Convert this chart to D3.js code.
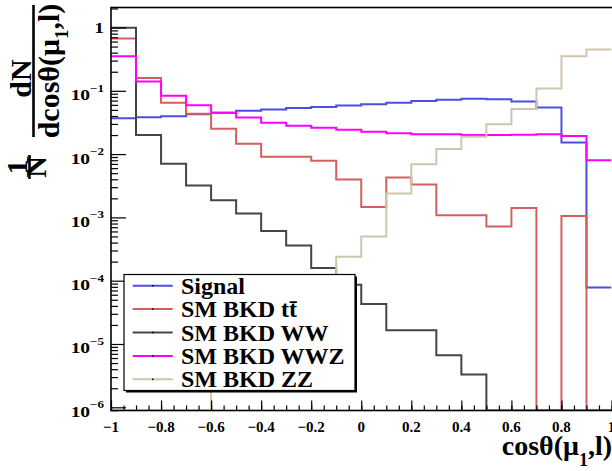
<!DOCTYPE html>
<html>
<head>
<meta charset="utf-8">
<script src="https://cdn.jsdelivr.net/npm/d3@7"></script>
<style>
  html, body { margin: 0; padding: 0; background: #fff; }
  svg { display: block; }
  text { font-family: "Liberation Serif", "Times New Roman", serif; font-weight: bold; fill: #000; }
</style>
</head>
<body>
<svg id="chart" width="612" height="471"></svg>
<script>
// Lower edges of the 20 bins in cos(theta)
const binLow = [-1.0, -0.9, -0.8, -0.7, -0.6, -0.5, -0.4, -0.3, -0.2, -0.1,
                 0.0,  0.1,  0.2,  0.3,  0.4,  0.5,  0.6,  0.7,  0.8,  0.9];
const binWidth = 0.1;

// Normalised distributions, one value per bin
const signal = [0.0369, 0.0383, 0.0397, 0.0427, 0.0448, 0.0482, 0.0505, 0.0537, 0.0557, 0.0585,
                0.0615, 0.0645, 0.0687, 0.0720, 0.0746, 0.0738, 0.0676, 0.0543, 0.0153, 7.8e-5];
const ttbar  = [0.669, 0.159, 0.0645, 0.0432, 0.0252, 0.0146, 0.00905, 0.00905, 0.00783, 0.00396,
                0.00146, 0.00427, 0.0033, 0.00108, 0.00108, 0.00072, 0.00141, 0, 0.00105, 0];
const ww     = [0.99, 0.0200, 0.00702, 0.00319, 0.00186, 0.00115, 0.000607, 0.000360, 0.000159, 8.65e-5,
                4.27e-5, 1.65e-5, 1.65e-5, 6.62e-6, 3.31e-6, 0, 0, 0, 0, 0];
const wwz    = [0.351, 0.140, 0.0833, 0.0593, 0.0448, 0.0377, 0.0314, 0.0281, 0.0261, 0.0243,
                0.0226, 0.0213, 0.0205, 0.0205, 0.0200, 0.0200, 0.0203, 0.0205, 0.0193, 0.00803];
const zz     = [0, 0, 0, 0, 3e-6, 8e-6, 2e-5, 4e-5, 8e-5, 0.00024,
                0.000499, 0.00238, 0.00694, 0.0120, 0.0188, 0.0296, 0.0518, 0.109, 0.351, 0.448];

const seriesNames  = ["Signal", "SM BKD tt\u0304", "SM BKD WW", "SM BKD WWZ", "SM BKD ZZ"];
const seriesColors = ["#4d4de0", "#d35f5f", "#454545", "#ff00ff", "#cdc5ae"];
const seriesValues = [signal, ttbar, ww, wwz, zz];

// Axis ticks and labels
const xMajorTicks  = [-1, -0.8, -0.6, -0.4, -0.2, 0, 0.2, 0.4, 0.6, 0.8, 1];
const xTickLabels  = ["\u22121", "\u22120.8", "\u22120.6", "\u22120.4", "\u22120.2", "0", "0.2", "0.4", "0.6", "0.8", "1"];
const yDecades     = [-6, -5, -4, -3, -2, -1, 0];

const svg = d3.select("#chart");

// Frame geometry
const frameL = 111, frameR = 611.5, frameT = 7.5, frameB = 410.5;

const x = d3.scaleLinear().domain([-1, 1]).range([frameL, frameR]);
const y = d3.scaleLog().domain([8.9e-7, 2.07]).range([frameB, frameT]);
const yMin = y.domain()[0];

// Histograms as step outlines; empty bins fall to the bottom of the frame
svg.append("clipPath").attr("id", "frameClip")
  .append("rect").attr("x", frameL).attr("y", frameT).attr("width", frameR - frameL).attr("height", frameB - frameT);

const histLayer = svg.append("g").attr("clip-path", "url(#frameClip)");

seriesValues.forEach((vals, si) => {
  const pts = [];
  vals.forEach((v, i) => {
    const yy = y(v > yMin ? v : yMin);
    pts.push([x(binLow[i]), yy]);
    pts.push([x(binLow[i] + binWidth), yy]);
  });
  histLayer.append("path")
    .attr("d", d3.line()(pts))
    .attr("fill", "none")
    .attr("stroke", seriesColors[si])
    .attr("stroke-width", 2)
    .attr("stroke-linejoin", "miter");
});

// Frame
svg.append("rect")
  .attr("x", frameL).attr("y", frameT)
  .attr("width", frameR - frameL + 2).attr("height", frameB - frameT)
  .attr("fill", "none").attr("stroke", "#000").attr("stroke-width", 1.6);

// X axis ticks (pointing up into the frame)
const xMinor = d3.range(-1, 1.0001, 0.05).map(v => +v.toFixed(2));
svg.append("g").attr("transform", `translate(0,${frameB})`)
  .call(d3.axisTop(x).tickValues(xMinor).tickSize(5).tickFormat(""))
  .call(g => g.select(".domain").remove())
  .call(g => g.selectAll("line").attr("stroke", "#000").attr("stroke-width", 1.2));
svg.append("g").attr("transform", `translate(0,${frameB})`)
  .call(d3.axisTop(x).tickValues(xMajorTicks).tickSize(10).tickFormat(""))
  .call(g => g.select(".domain").remove())
  .call(g => g.selectAll("line").attr("stroke", "#000").attr("stroke-width", 1.2));

svg.append("g").selectAll("text").data(xMajorTicks).join("text")
  .attr("x", d => x(d))
  .attr("y", 432)
  .attr("text-anchor", "middle")
  .attr("font-size", 15)
  .text((d, i) => xTickLabels[i]);

// Y axis ticks (pointing right into the frame)
const yAll = y.ticks();
const yMinorTicks = yAll.filter(v => Math.abs(Math.log10(v) - Math.round(Math.log10(v))) > 1e-6);
const yMajorTicks = yDecades.map(k => Math.pow(10, k));
svg.append("g").attr("transform", `translate(${frameL},0)`)
  .call(d3.axisRight(y).tickValues(yMinorTicks).tickSize(7).tickFormat(""))
  .call(g => g.select(".domain").remove())
  .call(g => g.selectAll("line").attr("stroke", "#000").attr("stroke-width", 1.2));
svg.append("g").attr("transform", `translate(${frameL},0)`)
  .call(d3.axisRight(y).tickValues(yMajorTicks).tickSize(15).tickFormat(""))
  .call(g => g.select(".domain").remove())
  .call(g => g.selectAll("line").attr("stroke", "#000").attr("stroke-width", 1.2));

const yLab = svg.append("g").selectAll("text").data(yDecades).join("text")
  .attr("text-anchor", "end")
  .attr("transform", d => `translate(104,${y(Math.pow(10, d)) + (d === 0 ? 5.5 : 9.5)}) scale(1.3,1)`)
  .attr("font-size", 15);
yLab.each(function(d) {
  const t = d3.select(this);
  if (d === 0) { t.text("1"); return; }
  t.append("tspan").text("10");
  t.append("tspan").attr("font-size", 10).attr("dy", -8.5).text("\u2212" + Math.abs(d));
});

// Y axis title: 1/N dN/dcos(theta)
const yTitle = svg.append("g");
function rotText(px, py, size) {
  return yTitle.append("text")
    .attr("transform", `translate(${px},${py}) rotate(-90)`)
    .attr("text-anchor", "middle")
    .attr("font-size", size);
}
rotText(27, 167, 30).text("1");
rotText(46, 167, 30).text("N");
yTitle.append("line").attr("x1", 29.5).attr("x2", 29.5).attr("y1", 155).attr("y2", 179)
  .attr("stroke", "#000").attr("stroke-width", 2.6);
rotText(31, 78.5, 30).text("dN");
yTitle.append("line").attr("x1", 33.5).attr("x2", 33.5).attr("y1", 5).attr("y2", 137)
  .attr("stroke", "#000").attr("stroke-width", 2.6);
const den = rotText(59, 71, 30);
den.append("tspan").text("dcos\u03b8(\u03bc");
den.append("tspan").attr("font-size", 19).attr("dy", 9).text("1");
den.append("tspan").attr("dy", -9).text(",l)");

// X axis title
const xt = svg.append("text")
  .attr("x", 612).attr("y", 455)
  .attr("text-anchor", "end")
  .attr("font-size", 28);
xt.append("tspan").text("cos\u03b8(\u03bc");
xt.append("tspan").attr("font-size", 18).attr("dy", 11).text("1");
xt.append("tspan").attr("dy", -11).text(",l)");

// Legend with drop shadow
const lg = { x: 124, y: 274.5, w: 231, h: 116 };
svg.append("rect").attr("x", lg.x + 2).attr("y", lg.y + 2).attr("width", lg.w).attr("height", lg.h).attr("fill", "#000");
svg.append("rect").attr("x", lg.x).attr("y", lg.y).attr("width", lg.w).attr("height", lg.h)
  .attr("fill", "#fff").attr("stroke", "#000").attr("stroke-width", 1.2);

const rowY = d3.scalePoint().domain(d3.range(seriesNames.length)).range([285.7, 379.3]);
const rows = svg.append("g").selectAll("g").data(seriesNames).join("g")
  .attr("transform", (d, i) => `translate(0,${rowY(i)})`);
rows.append("line").attr("x1", 132.7).attr("x2", 172.7).attr("y1", 0).attr("y2", 0)
  .attr("stroke", (d, i) => seriesColors[i]).attr("stroke-width", 2);
rows.append("rect").attr("x", 152).attr("y", -0.75).attr("width", 1.5).attr("height", 1.5).attr("fill", "#000");
rows.append("text").attr("x", 181).attr("y", 8).attr("font-size", 24).text(d => d);
</script>
</body>
</html>
